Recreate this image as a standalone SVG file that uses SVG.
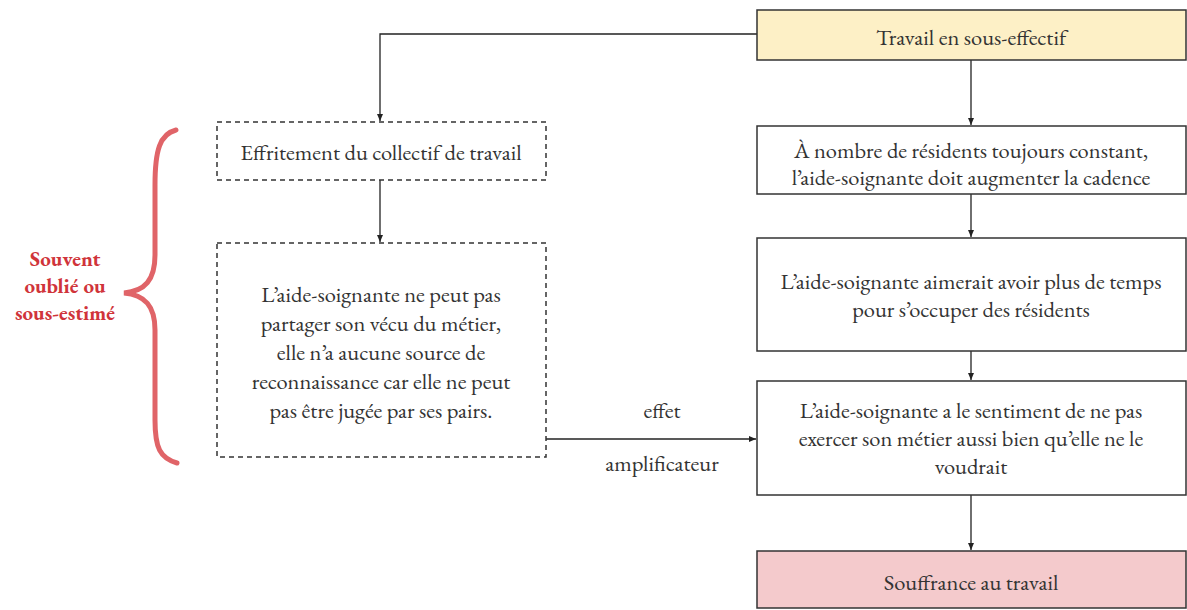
<svg xmlns="http://www.w3.org/2000/svg" width="1187" height="610" viewBox="0 0 1187 610">
<defs>
<marker id="ah" markerWidth="8" markerHeight="8" refX="7" refY="4" orient="auto" markerUnits="userSpaceOnUse">
<path d="M0,1 L7,4 L0,7 Z" fill="#222"/>
</marker>
<style>
text{font-size:22.5px;fill:#333;text-anchor:middle}
.box{fill:#fff;stroke:#333;stroke-width:1.5}
.dash{fill:#fff;stroke:#333;stroke-width:1.5;stroke-dasharray:5,4}
.conn{fill:none;stroke:#222;stroke-width:1.3}
.red{fill:#d0343a;font-weight:bold;font-size:21px}
</style>
</defs>
<rect width="1187" height="610" fill="#fff"/>
<g font-family="EB Garamond, Liberation Serif, serif">
<g id="connectors">
<path class="conn" d="M757,34 H380 V121" marker-end="url(#ah)"/>
<path class="conn" d="M380,180 V242" marker-end="url(#ah)"/>
<path class="conn" d="M971,60 V125" marker-end="url(#ah)"/>
<path class="conn" d="M971,194 V237" marker-end="url(#ah)"/>
<path class="conn" d="M971,351 V380" marker-end="url(#ah)"/>
<path class="conn" d="M971,495 V550" marker-end="url(#ah)"/>
<path class="conn" d="M546,439 H756" marker-end="url(#ah)"/>
<text x="662" y="418">effet</text>
<text x="662" y="471">amplificateur</text>
</g>
<g id="n1">
<rect x="757" y="10" width="429" height="50" fill="#fdf0c6" stroke="#333" stroke-width="1.5"/>
<text x="971" y="45">Travail en sous-effectif</text>
</g>
<g id="n2">
<rect class="box" x="757" y="126" width="429" height="68"/>
<text x="971" y="158">À nombre de résidents toujours constant,</text>
<text x="971" y="185">l’aide-soignante doit augmenter la cadence</text>
</g>
<g id="n3">
<rect class="box" x="757" y="238" width="429" height="113"/>
<text x="971" y="289">L’aide-soignante aimerait avoir plus de temps</text>
<text x="971" y="317">pour s’occuper des résidents</text>
</g>
<g id="n4">
<rect class="box" x="757" y="381" width="429" height="114"/>
<text x="971" y="418">L’aide-soignante a le sentiment de ne pas</text>
<text x="971" y="446">exercer son métier aussi bien qu’elle ne le</text>
<text x="971" y="474">voudrait</text>
</g>
<g id="n5">
<rect x="757" y="551" width="429" height="57" fill="#f4cacc" stroke="#333" stroke-width="1.5"/>
<text x="971" y="590">Souffrance au travail</text>
</g>
<g id="d1">
<rect class="dash" x="217" y="122" width="329" height="58"/>
<text x="381" y="160">Effritement du collectif de travail</text>
</g>
<g id="d2">
<rect class="dash" x="217" y="243" width="329" height="214"/>
<text x="381" y="302">L’aide-soignante ne peut pas</text>
<text x="381" y="331">partager son vécu du métier,</text>
<text x="381" y="360">elle n’a aucune source de</text>
<text x="381" y="389">reconnaissance car elle ne peut</text>
<text x="381" y="418">pas être jugée par ses pairs.</text>
</g>
<g id="brace">
<path d="M176,130 C160,134 155,150 155,185 L155,255 C155,280 145,291 124,293 C145,295 155,306 155,330 L155,420 C155,448 160,458 177,463" fill="none" stroke="#e06468" stroke-width="5" stroke-linecap="round"/>
<text class="red" x="65" y="266">Souvent</text>
<text class="red" x="65" y="293">oublié ou</text>
<text class="red" x="65" y="320">sous-estimé</text>
</g>
</g>
</svg>
